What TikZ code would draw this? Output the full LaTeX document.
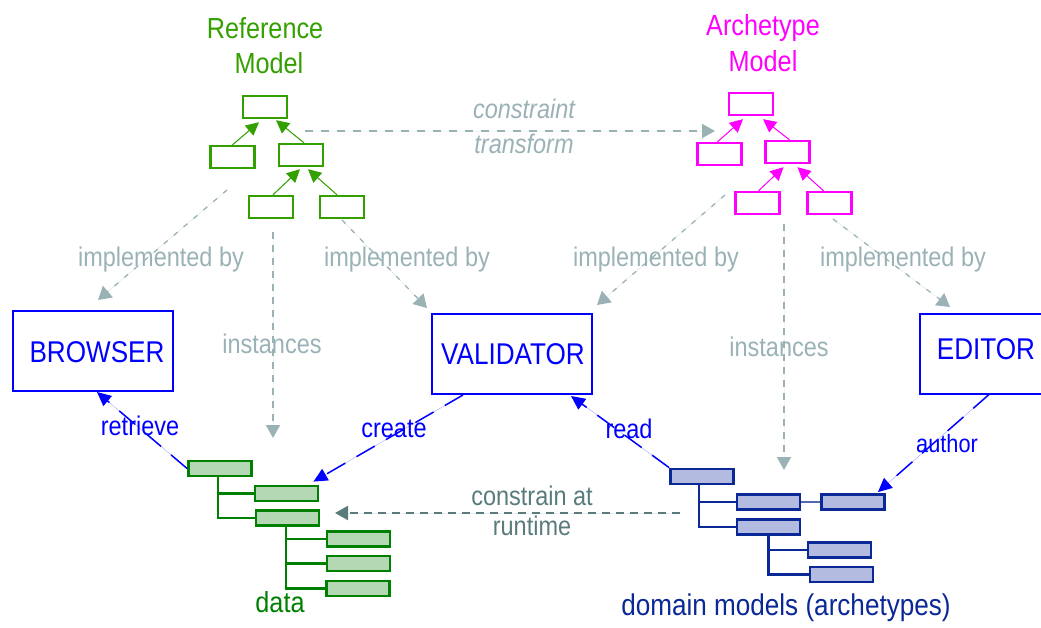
\documentclass[tikz,border=0pt]{standalone}
\usepackage{fontspec}
\setmainfont[FakeStretch=0.87]{Liberation Sans}
\usetikzlibrary{arrows.meta,calc}

\definecolor{rmgreen}{RGB}{51,160,0}
\definecolor{amagenta}{RGB}{255,0,255}
\definecolor{linkgray}{RGB}{154,178,182}
\definecolor{appblue}{RGB}{0,0,255}
\definecolor{datagreen}{RGB}{0,128,0}
\definecolor{datafill}{RGB}{180,215,180}
\definecolor{domnavy}{RGB}{10,40,150}
\definecolor{domfill}{RGB}{179,188,224}
\definecolor{rtgray}{RGB}{90,123,123}

\newcommand\setfs[1]{\fontsize{#1}{#1}\selectfont}

\tikzset{
  cls/.style={draw, line width=2.4pt, minimum width=44pt, minimum height=22pt, inner sep=0pt},
  rmcls/.style={cls, draw=rmgreen},
  amcls/.style={cls, draw=amagenta},
  inh/.style={line width=1pt, -{Triangle[length=13pt,width=13pt]}},
  app/.style={draw=appblue, line width=2pt, minimum width=160pt, minimum height=80pt, inner sep=0pt},
  apptext/.style={text=appblue, font=\setfs{30}, inner sep=0pt},
  title/.style={font=\setfs{29}, inner sep=0pt, anchor=base},
  lbl/.style={font=\setfs{27}, inner sep=0pt, anchor=base},
  impl/.style={draw=linkgray, line width=1.3pt, dash pattern=on 5pt off 8pt, -{Triangle[length=13pt,width=15pt]}},
  inst/.style={draw=linkgray, line width=2pt, dash pattern=on 7pt off 6pt, -{Triangle[length=13pt,width=14pt]}},
  xform/.style={draw=linkgray, line width=2pt, dash pattern=on 8pt off 8pt, -{Triangle[length=13pt,width=14pt]}},
  use/.style={draw=appblue, line width=1.5pt, dash pattern=on 21pt off 13pt, -{Triangle[length=14pt,width=13pt]}},
  rt/.style={draw=rtgray, line width=2pt, dash pattern=on 8pt off 6pt, -{Triangle[length=13pt,width=14pt]}},
  dbox/.style={draw=datagreen, fill=datafill, line width=2.8pt, minimum width=63pt, minimum height=15pt, inner sep=0pt},
  nbox/.style={draw=domnavy, fill=domfill, line width=2.8pt, minimum width=63pt, minimum height=15pt, inner sep=0pt},
  dline/.style={draw=datagreen, line width=2.6pt},
  nline/.style={draw=domnavy, line width=2.6pt},
}

\begin{document}
\begin{tikzpicture}[x=1pt,y=-1pt]
\useasboundingbox (0,0) rectangle (1041,627);

% ---------- reference model ----------
\node[title, text=rmgreen] (rmt1) at (265,38) {Reference};
\node[title, text=rmgreen] (rmt2) at (269,73) {Model};
\node[rmcls] (r0) at (265,107) {};
\node[rmcls] (rl) at (232.5,157) {};
\node[rmcls] (rm) at (301,155) {};
\node[rmcls] (rb1) at (271,207) {};
\node[rmcls] (rb2) at (342,207) {};
\draw[inh, draw=rmgreen, fill=rmgreen] (rl.north) -- ([xshift=-6pt,yshift=-3pt]r0.south);
\draw[inh, draw=rmgreen, fill=rmgreen] ([xshift=3pt]rm.north) -- ([xshift=11pt,yshift=-1pt]r0.south);
\draw[inh, draw=rmgreen, fill=rmgreen] ([xshift=2pt]rb1.north) -- ([xshift=-1pt,yshift=-2pt]rm.south);
\draw[inh, draw=rmgreen, fill=rmgreen] ([xshift=-5pt]rb2.north) -- ([xshift=7pt,yshift=-2pt]rm.south);

% ---------- archetype model ----------
\node[title, text=amagenta] (amt1) at (763,35) {Archetype};
\node[title, text=amagenta] (amt2) at (763,71) {Model};
\node[amcls] (a0) at (751,104) {};
\node[amcls] (al) at (719.5,154) {};
\node[amcls] (am) at (787.5,152) {};
\node[amcls] (ab1) at (757.5,203) {};
\node[amcls] (ab2) at (829.5,203) {};
\draw[inh, draw=amagenta, fill=amagenta] ([xshift=-2pt]al.north) -- ([xshift=-8pt,yshift=-3pt]a0.south);
\draw[inh, draw=amagenta, fill=amagenta] ([xshift=2pt]am.north) -- ([xshift=12pt,yshift=-3pt]a0.south);
\draw[inh, draw=amagenta, fill=amagenta] ([xshift=1pt]ab1.north) -- ([xshift=-4pt,yshift=-3pt]am.south);
\draw[inh, draw=amagenta, fill=amagenta] ([xshift=-6pt]ab2.north) -- ([xshift=10pt,yshift=-3pt]am.south);

% ---------- constraint transform ----------
\coordinate (ct0) at (305,131);
\coordinate (ct1) at (715,131);
\draw[xform, fill=linkgray] (ct0) -- (ct1);
\node[lbl, text=linkgray, font=\setfs{27}\itshape] (ctl1) at (524,118) {constraint};
\node[lbl, text=linkgray, font=\setfs{27}\itshape] (ctl2) at (524,153) {transform};

% ---------- applications ----------
\node[app] (br) at (93,351) {};
\node[apptext] (brt) at (97,352) {BROWSER};
\node[app] (va) at (512,354) {};
\node[apptext] (vat) at (513,354) {VALIDATOR};
\node[app] (ed) at (1000,353.5) {};
\node[apptext] (edt) at (986,349) {EDITOR};

% ---------- implemented by ----------
\coordinate (ib1s) at (227,190);  \coordinate (ib1e) at (98,300);
\coordinate (ib2s) at (342,220);  \coordinate (ib2e) at (427,308);
\coordinate (ib3s) at (725,195);  \coordinate (ib3e) at (597,305);
\coordinate (ib4s) at (833,219);  \coordinate (ib4e) at (950,307);
\draw[impl, fill=linkgray] (ib1s) -- (ib1e);
\draw[impl, fill=linkgray] (ib2s) -- (ib2e);
\draw[impl, fill=linkgray] (ib3s) -- (ib3e);
\draw[impl, fill=linkgray] (ib4s) -- (ib4e);
\node[lbl, text=linkgray] (ibl1) at (161,266) {implemented by};
\node[lbl, text=linkgray] (ibl2) at (407,266) {implemented by};
\node[lbl, text=linkgray] (ibl3) at (656,266) {implemented by};
\node[lbl, text=linkgray] (ibl4) at (903,266) {implemented by};

% ---------- instances ----------
\coordinate (in1s) at (273,232);  \coordinate (in1e) at (273,438);
\coordinate (in2s) at (784,224);  \coordinate (in2e) at (784,470);
\draw[inst, fill=linkgray] (in1s) -- (in1e);
\draw[inst, fill=linkgray] (in2s) -- (in2e);
\node[lbl, text=linkgray] (inl1) at (272,353) {instances};
\node[lbl, text=linkgray] (inl2) at (779,356) {instances};

% ---------- data tree ----------
\node[dbox] (dt0) at (220,468.5) {};
\node[dbox] (dt1) at (286.5,493.5) {};
\node[dbox] (dt2) at (287.5,518) {};
\node[dbox] (dt3) at (358.5,539) {};
\node[dbox] (dt4) at (358.5,563.5) {};
\node[dbox] (dt5) at (358,588.5) {};
\draw[dline] ([xshift=-2pt]dt0.south) |- (dt1.west);
\draw[dline] ([xshift=-2pt]dt0.south) |- (dt2.west);
\draw[dline] ([xshift=-1.5pt]dt2.south) |- (dt3.west);
\draw[dline] ([xshift=-1.5pt]dt2.south) |- (dt4.west);
\draw[dline] ([xshift=-1.5pt]dt2.south) |- (dt5.west);
\node[lbl, text=datagreen, font=\setfs{29}] (dtl) at (280,612) {data};

% ---------- domain model tree ----------
\node[nbox] (dm0) at (702,476.5) {};
\node[nbox] (dm1) at (768.5,502) {};
\node[nbox] (dm2) at (853,502) {};
\node[nbox] (dm3) at (768.5,527) {};
\node[nbox] (dm4) at (839.5,550) {};
\node[nbox] (dm5) at (841.5,574.5) {};
\draw[nline] ([xshift=-3pt]dm0.south) |- (dm1.west);
\draw[nline] ([xshift=-3pt]dm0.south) |- (dm3.west);
\draw[nline] (dm3.south) |- (dm4.west);
\draw[nline] (dm3.south) |- (dm5.west);
\draw[draw=domnavy!70, line width=1.2pt] (dm1.east) -- (dm2.west);
\node[lbl, text=domnavy, font=\setfs{30}] (dml) at (786,615) {domain models (archetypes)};

% ---------- tool usage ----------
\draw[use, fill=appblue] (dt0.west) -- ([xshift=4pt]br.south);
\draw[use, fill=appblue] ([xshift=-49pt]va.south) -- ([xshift=-6pt,yshift=3pt]dt1.north east);
\draw[use, fill=appblue] (dm0.north west) -- ([xshift=59pt,yshift=-1pt]va.south);
\draw[use, fill=appblue] ([xshift=-11pt]ed.south) -- ([xshift=-8pt,yshift=1pt]dm2.north east);
\node[lbl, text=appblue, font=\setfs{27}] (ul1) at (140,435) {retrieve};
\node[lbl, text=appblue, font=\setfs{27}] (ul2) at (394,437) {create};
\node[lbl, text=appblue, font=\setfs{27}] (ul3) at (629,438) {read};
\node[lbl, text=appblue, font=\setfs{25}] (ul4) at (947,452) {author};

% ---------- runtime constraint ----------
\coordinate (rt0) at (680,513);
\coordinate (rt1) at (335,513);
\draw[rt, fill=rtgray] (rt0) -- (rt1);
\node[lbl, text=rtgray] (rtl1) at (532,505) {constrain at};
\node[lbl, text=rtgray] (rtl2) at (532,535) {runtime};
\end{tikzpicture}
\end{document}
